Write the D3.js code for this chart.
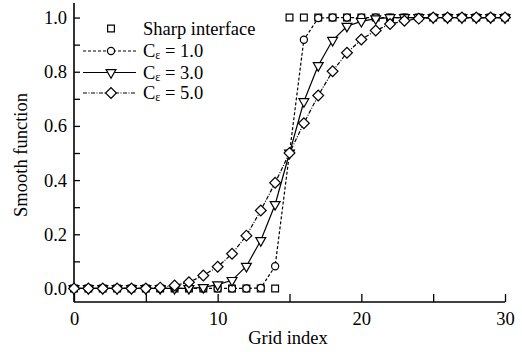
<!DOCTYPE html>
<html><head><meta charset="utf-8">
<script src="https://cdn.jsdelivr.net/npm/d3@7"></script>
<style>body{margin:0;background:#fff}svg{display:block}</style>
</head><body>
<svg id="c" width="522" height="352"></svg>
<script>
const xIdx = d3.range(0, 31);
const sharp = [0,0,0,0,0,0,0,0,0,0,0,0,0,0,0,1,1,1,1,1,1,1,1,1,1,1,1,1,1,1,1];
const c1 = [0,0,0,0,0,0,0,0,0,0,0,0,0,0.002,0.082,0.5,0.918,0.998,1,1,1,1,1,1,1,1,1,1,1,1,1];
const c3 = [0,0,0,0,0,0,0,0,0,0.004,0.014,0.03,0.082,0.177,0.31,0.5,0.69,0.823,0.916,0.968,0.986,0.996,1,1,1,1,1,1,1,1,1];
const c5 = [0,0,0,0,0,0,0.003,0.011,0.023,0.048,0.08,0.128,0.195,0.288,0.39,0.5,0.61,0.712,0.802,0.87,0.919,0.952,0.976,0.988,0.996,1,1,1,1,1,1];
const xTicks = [0,10,20,30];
const yTicks = [0,0.2,0.4,0.6,0.8,1.0];

const svg = d3.select('#c');
const FONT = '"Liberation Serif","Times New Roman",serif';
const x = d3.scaleLinear().domain([0,30]).range([74,505]);
const y = d3.scaleLinear().domain([-0.05,1.05]).range([302,4]);

const g = svg.append('g').attr('font-family', FONT);

// axes
const xAxis = d3.axisBottom(x).tickValues(d3.range(0,31,5)).tickSize(-8).tickPadding(10)
  .tickFormat(d => xTicks.includes(d) ? d3.format('d')(d) : '');
const gx = g.append('g').attr('transform','translate(0,302)').call(xAxis);
const yAxis = d3.axisLeft(y).tickValues(d3.range(0,1.01,0.1).map(v=>+v.toFixed(1))).tickSize(-6).tickPadding(7)
  .tickFormat(d => yTicks.some(t=>Math.abs(t-d)<1e-9) ? d3.format('.1f')(d) : '');
const gy = g.append('g').attr('transform','translate(74,0)').call(yAxis);
[gx,gy].forEach(a=>{
  a.select('.domain').attr('stroke','#000').attr('stroke-width',1.6);
  a.selectAll('.tick line').attr('stroke','#000').attr('stroke-width',1.3);
  a.selectAll('text').attr('font-family',FONT).attr('font-size',18.5).attr('fill','#000');
});
gx.select('.domain').attr('d','M74,0H505');
gy.select('.domain').attr('d','M0,302V3');

g.append('text').attr('x',288).attr('y',344).attr('text-anchor','middle').attr('font-size',18.5).text('Grid index');
g.append('text').attr('transform','translate(27,155) rotate(-90)').attr('text-anchor','middle').attr('font-size',18.5).text('Smooth function');

const series = [
  {name:'Sharp interface', vals: sharp, dash:null, line:false, marker:'square'},
  {name:'1.0', vals: c1, dash:'3,2', line:true, marker:'circle'},
  {name:'3.0', vals: c3, dash:null, line:true, marker:'tri'},
  {name:'5.0', vals: c5, dash:'4,1.5,1,1.5', line:true, marker:'diamond'}
];
const sym = {
  square: d3.symbol().type(d3.symbolSquare).size(46),
  circle: d3.symbol().type(d3.symbolCircle).size(40),
  tri: d3.symbol().type(d3.symbolTriangle).size(42),
  diamond: d3.symbol().type(d3.symbolSquare).size(58)
};
function drawMarker(sel, m, cx, cy){
  const p = sel.append('path').attr('d', sym[m]()).attr('fill','#fff').attr('stroke','#000').attr('stroke-width',1.2);
  let t = `translate(${cx},${cy})`;
  if (m==='tri') t += ' rotate(180)';
  if (m==='diamond') t += ' rotate(45)';
  p.attr('transform', t);
}
const line = d3.line().x((d,i)=>x(xIdx[i])).y(d=>y(d));
series.forEach(s=>{
  const sg = g.append('g');
  if (s.line) sg.append('path').attr('d', line(s.vals)).attr('fill','none').attr('stroke','#000')
     .attr('stroke-width',1.2).attr('stroke-dasharray', s.dash);
  s.vals.forEach((v,i)=>drawMarker(sg, s.marker, x(xIdx[i]), y(v)));
});

// legend
const ly = [28.5, 51, 72.5, 93];
series.forEach((s,i)=>{
  const lg = g.append('g');
  if (s.line) lg.append('line').attr('x1',83).attr('x2',136).attr('y1',ly[i]).attr('y2',ly[i])
     .attr('stroke','#000').attr('stroke-width',1.2).attr('stroke-dasharray', s.dash);
  drawMarker(lg, s.marker, 111, ly[i]);
  const t = lg.append('text').attr('x',143).attr('y',ly[i]+6).attr('font-size',18.5);
  if (i===0) t.text(s.name);
  else { t.append('tspan').text('C'); t.append('tspan').attr('font-size',12).attr('dy',2).text('ε');
         t.append('tspan').attr('dy',-2).text(' = ' + s.name); }
});
</script>
</body></html>
